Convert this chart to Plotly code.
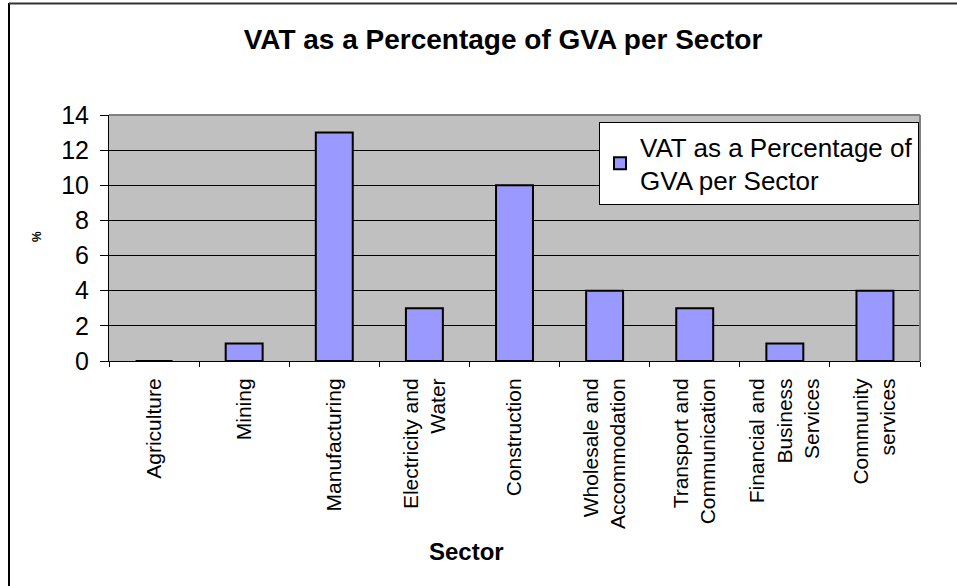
import plotly.graph_objects as go

categories = ["Agriculture", "Mining", "Manufacturing", "Electricity and<br>Water",
              "Construction", "Wholesale and<br>Accommodation", "Transport and<br>Communication",
              "Financial and<br>Business<br>Services", "Community<br>services"]
values = [0, 1, 13, 3, 10, 4, 3, 1, 4]
series_name = "VAT as a Percentage of<br>GVA per Sector"
y_ticks = [0, 2, 4, 6, 8, 10, 12, 14]

W, H = 957, 586
L, R, T, B = 109, 920, 115, 361

def px_x(px):
    return (px - L) / (R - L)

def px_y(py):
    return (B - py) / (B - T)

FONT = "Arial, Liberation Sans, sans-serif"

fig = go.Figure()
fig.add_trace(go.Bar(
    x=categories, y=values, name=series_name,
    marker=dict(color="#9999FF", line=dict(color="black", width=2)),
    showlegend=True,
))

fig.update_layout(
    width=W, height=H,
    margin=dict(l=L, r=W - R, t=T, b=H - B, pad=0),
    paper_bgcolor="white", plot_bgcolor="#C0C0C0",
    bargap=0.59,
    font=dict(family=FONT, color="black"),
    title=dict(text="<b>VAT as a Percentage of GVA per Sector</b>",
               x=503 / W, xref="container", xanchor="center",
               y=1 - 39 / H, yref="container", yanchor="middle",
               font=dict(size=28, family=FONT, color="black")),
    showlegend=True,
    legend=dict(x=px_x(599), y=px_y(122), xanchor="left", yanchor="top",
                bgcolor="white", bordercolor="black", borderwidth=1,
                font=dict(size=26, family=FONT, color="black"),
                itemwidth=30, tracegroupgap=0),
    xaxis=dict(type="category", tickangle=-90, tickson="boundaries",
               ticks="outside", ticklen=5, tickcolor="black",
               showline=True, linecolor="black", linewidth=1,
               showgrid=False, tickfont=dict(size=21, family=FONT, color="black"),
               ticklabelstandoff=8),
    yaxis=dict(range=[0, 14], tickvals=y_ticks, ticks="outside", ticklen=8,
               tickcolor="black", showline=True, linecolor="black", linewidth=1,
               showgrid=True, gridcolor="black", gridwidth=1, zeroline=False,
               tickfont=dict(size=25, family=FONT, color="black"),
               ticklabelstandoff=6),
)

# gray top/right plot border
fig.add_shape(type="line", xref="paper", yref="paper", x0=0, x1=1, y0=1, y1=1,
              line=dict(color="#808080", width=2), layer="above")
fig.add_shape(type="line", xref="paper", yref="paper", x0=1, x1=1, y0=0, y1=1,
              line=dict(color="#808080", width=2), layer="above")

# outer chart border (left and top visible)
fig.add_shape(type="line", xref="paper", yref="paper",
              x0=px_x(9), x1=px_x(9), y0=px_y(3), y1=px_y(620),
              line=dict(color="black", width=2))
fig.add_shape(type="line", xref="paper", yref="paper",
              x0=px_x(9), x1=px_x(1000), y0=px_y(3.5), y1=px_y(3.5),
              line=dict(color="#333333", width=2))

fig.add_annotation(text="<b>Sector</b>", xref="paper", yref="paper",
                   x=px_x(466), y=px_y(551), xanchor="center", yanchor="middle",
                   showarrow=False, font=dict(size=24, family=FONT, color="black"))
fig.add_annotation(text="<b>%</b>", xref="paper", yref="paper",
                   x=px_x(37), y=px_y(237), xanchor="center", yanchor="middle",
                   textangle=-90, showarrow=False,
                   font=dict(size=12, family=FONT, color="black"))

fig.write_html("out.html", config={"displayModeBar": False},
               post_script="document.body.style.margin='0';document.body.style.overflow='hidden';")
